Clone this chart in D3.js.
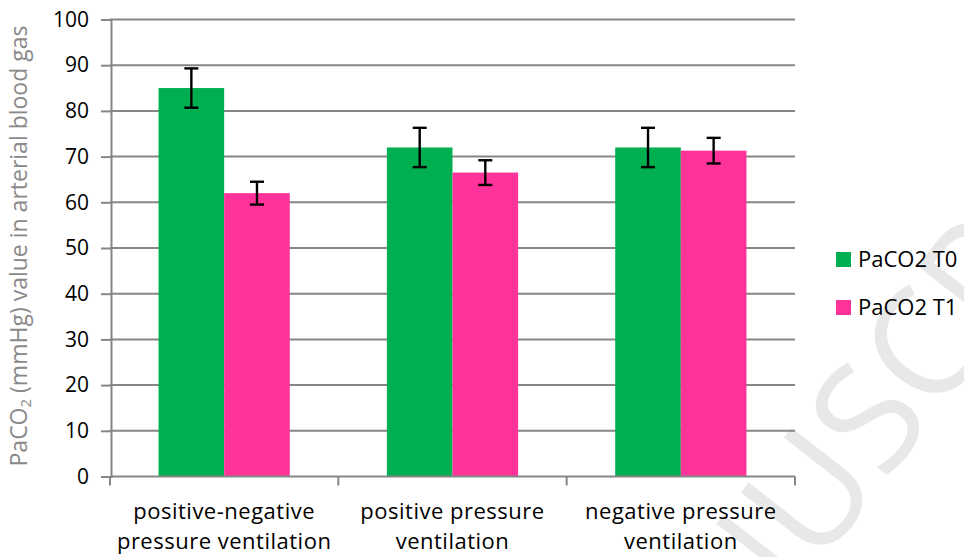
<!DOCTYPE html>
<html>
<head>
<meta charset="utf-8">
<script src="https://cdn.jsdelivr.net/npm/d3@7"></script>
<style>
  html, body { margin: 0; padding: 0; background: #ffffff; overflow: hidden; }
  svg { display: block; }
  text { font-family: "Open Sans", "DejaVu Sans", sans-serif; }
</style>
</head>
<body>
<svg id="chart" width="964" height="557"></svg>
<script>
// Ventilation groups (two-line labels) and PaCO2 measurements
const categories = ["positive-negative pressure ventilation", "positive pressure ventilation", "negative pressure ventilation"];
const categoryLines = [["positive-negative", "pressure ventilation"], ["positive pressure", "ventilation"], ["negative pressure", "ventilation"]];
const seriesNames = ["PaCO2 T0", "PaCO2 T1"];
const valuesT0 = [85, 72, 72];
const errorsT0 = [4.3, 4.3, 4.3];
const valuesT1 = [62, 66.5, 71.3];
const errorsT1 = [2.5, 2.7, 2.8];
const yTicks = [0, 10, 20, 30, 40, 50, 60, 70, 80, 90, 100];
const colors = ["#00AF50", "#FF3399"];

const series = [
  { name: seriesNames[0], values: valuesT0, errors: errorsT0, color: colors[0] },
  { name: seriesNames[1], values: valuesT1, errors: errorsT1, color: colors[1] }
];

const svg = d3.select("#chart");
const gridColor = "#868686";

// faint background stamp, clipped to the canvas
svg.append("clipPath").attr("id", "page")
  .append("rect").attr("width", 964).attr("height", 557);
svg.append("g").attr("clip-path", "url(#page)")
  .append("text")
  .attr("transform", "translate(606,839) rotate(-52)")
  .attr("font-family", "'Liberation Serif', 'DejaVu Serif', serif")
  .attr("font-size", 150)
  .attr("fill", "#e8e8e8")
  .text("MANUSCRIPT");

const x0 = d3.scaleBand().domain(categories).range([110, 795]).padding(0);
const x1 = d3.scaleBand().domain(seriesNames).range([0, x0.bandwidth()])
  .paddingInner(0).paddingOuter(0.74);
const y = d3.scaleLinear().domain([0, 100]).range([476.5, 19.5]);

// horizontal gridlines
svg.append("g").selectAll("line")
  .data(yTicks.filter(d => d > 0))
  .join("line")
  .attr("x1", 110).attr("x2", 795)
  .attr("y1", d => y(d)).attr("y2", d => y(d))
  .attr("stroke", gridColor).attr("stroke-width", 2);

// bars
const groups = svg.append("g").selectAll("g")
  .data(series)
  .join("g");

groups.selectAll("rect")
  .data(s => s.values.map((v, i) => ({ s, v, i })))
  .join("rect")
  .attr("x", d => x0(categories[d.i]) + x1(d.s.name))
  .attr("y", d => y(d.v))
  .attr("width", x1.bandwidth())
  .attr("height", d => y(0) - y(d.v))
  .attr("fill", d => d.s.color);

// y axis
const yAxis = d3.axisLeft(y).tickValues(yTicks).tickSize(10).tickPadding(12);
const gy = svg.append("g").attr("transform", "translate(111,0)").call(yAxis);
gy.select(".domain").attr("stroke", gridColor).attr("stroke-width", 2);
gy.selectAll(".tick line").attr("stroke", gridColor).attr("stroke-width", 2);
gy.selectAll(".tick text")
  .attr("font-family", "'Open Sans', sans-serif")
  .attr("font-size", 21).attr("fill", "#000");

// x axis: ticks sit on category boundaries
const bounds = categories.map(c => x0(c)).concat([x0.range()[1]]);
const gx = svg.append("g");
gx.append("line")
  .attr("x1", 110).attr("x2", 795)
  .attr("y1", y(0)).attr("y2", y(0))
  .attr("stroke", gridColor).attr("stroke-width", 2);
gx.selectAll("line.b")
  .data(bounds)
  .join("line")
  .attr("class", "b")
  .attr("x1", d => d).attr("x2", d => d)
  .attr("y1", y(0)).attr("y2", y(0) + 9)
  .attr("stroke", gridColor).attr("stroke-width", 2);

// category labels, one text element per line
const catG = svg.append("g");
categories.forEach((c, i) => {
  categoryLines[i].forEach((line, j) => {
    catG.append("text")
      .attr("x", x0(c) + x0.bandwidth() / 2)
      .attr("y", 518.5 + j * 30.5)
      .attr("text-anchor", "middle")
      .attr("font-size", 22)
      .attr("letter-spacing", 0.5)
      .attr("fill", "#000")
      .text(line);
  });
});

// error bars
const capHalf = 7;
const errG = svg.append("g").attr("stroke", "#000").attr("stroke-width", 2.4);
series.forEach(s => {
  s.values.forEach((v, i) => {
    const cx = x0(categories[i]) + x1(s.name) + x1.bandwidth() / 2;
    const lo = y(v - s.errors[i]);
    const hi = y(v + s.errors[i]);
    errG.append("line").attr("x1", cx).attr("x2", cx).attr("y1", lo).attr("y2", hi);
    errG.append("line").attr("x1", cx - capHalf).attr("x2", cx + capHalf).attr("y1", hi).attr("y2", hi);
    errG.append("line").attr("x1", cx - capHalf).attr("x2", cx + capHalf).attr("y1", lo).attr("y2", lo);
  });
});

// y axis title with subscript
const title = svg.append("text")
  .attr("transform", "translate(27,246) rotate(-90)")
  .attr("text-anchor", "middle")
  .attr("font-size", 23)
  .attr("fill", "#898989");
title.append("tspan").text("PaCO");
title.append("tspan").attr("font-size", 15).attr("dy", 4).text("2");
title.append("tspan").attr("dy", -4).text(" (mmHg) value in arterial blood gas");

// legend
const legend = svg.append("g").selectAll("g")
  .data(series)
  .join("g")
  .attr("transform", (d, i) => `translate(836,${252 + i * 48})`);
legend.append("rect")
  .attr("width", 15).attr("height", 15)
  .attr("fill", d => d.color);
legend.append("text")
  .attr("x", 22).attr("y", 15)
  .attr("font-size", 22)
  .attr("fill", "#000")
  .text(d => d.name);
</script>
</body>
</html>
